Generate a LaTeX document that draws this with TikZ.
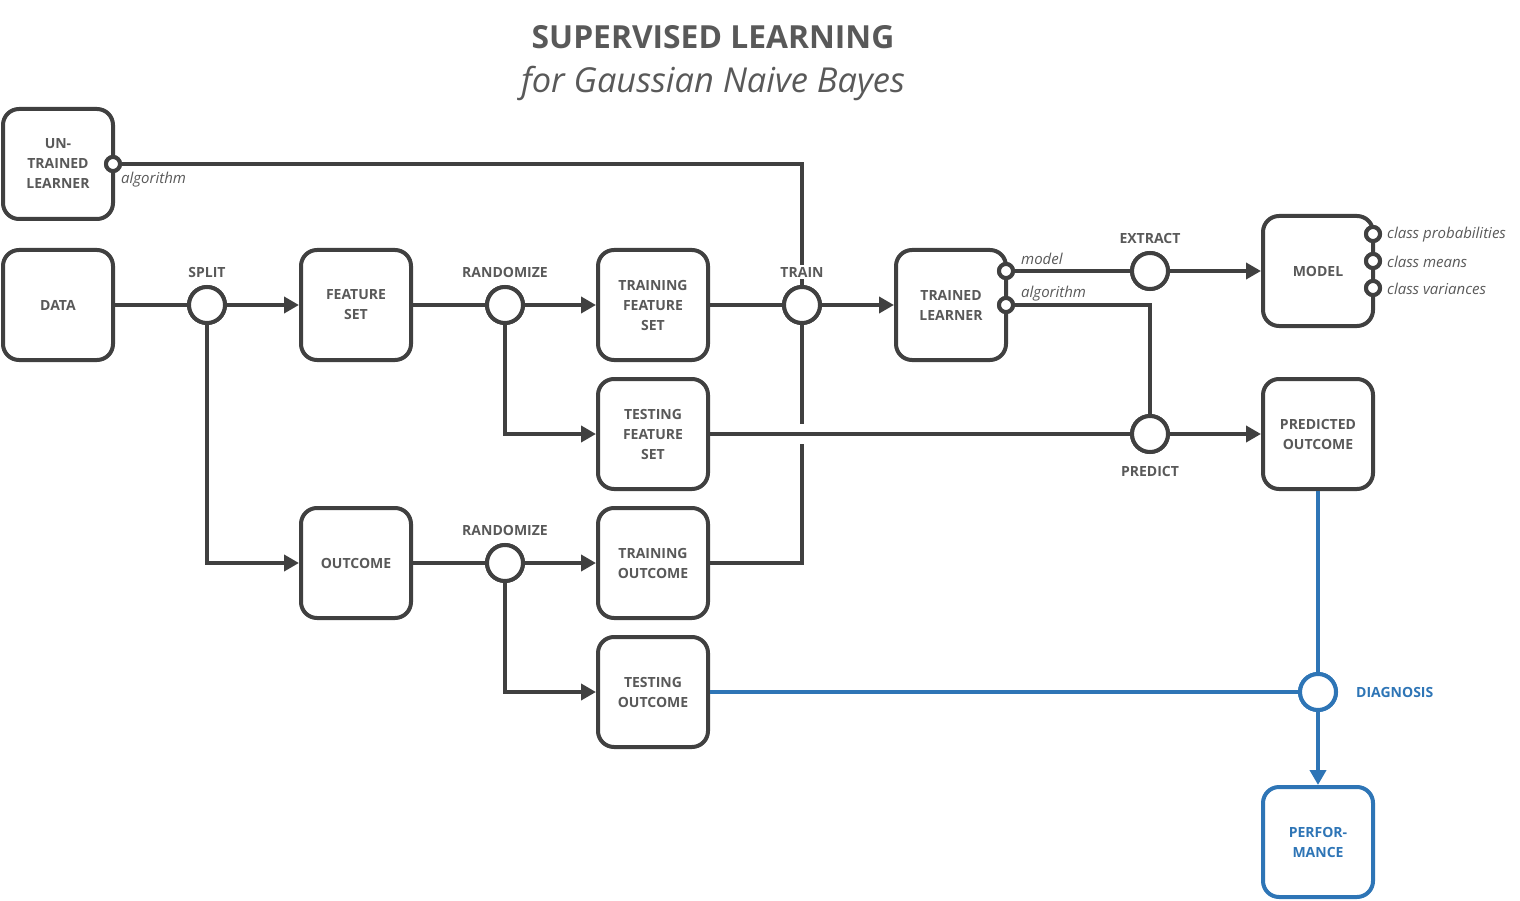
\documentclass[tikz,border=0pt]{standalone}
\usepackage{fontspec}
\setmainfont{Open Sans}
\usetikzlibrary{arrows.meta}
\definecolor{linegray}{HTML}{404040}
\definecolor{textgray}{HTML}{595959}
\definecolor{diagblue}{HTML}{2E75B6}

\begin{document}
\begin{tikzpicture}[x=1pt,y=-1pt,
    box/.style={draw=linegray,line width=4pt,rounded corners=16pt,fill=white,
      minimum width=110pt,minimum height=110pt,align=center,text=textgray,
      font=\fontsize{14}{20}\selectfont\bfseries},
    op/.style={circle,draw=linegray,line width=4pt,fill=white,minimum size=36pt,inner sep=0pt},
    port/.style={circle,draw=linegray,line width=4pt,fill=white,minimum size=14pt,inner sep=0pt},
    opname/.style={text=textgray,font=\fontsize{14}{16}\selectfont\bfseries,fill=white,inner sep=2pt},
    portname/.style={text=textgray,font=\fontsize{15}{18}\selectfont\itshape,inner sep=1pt},
    flow/.style={draw=linegray,line width=4pt},
    blueflow/.style={draw=diagblue,line width=4pt},
    >={Triangle[length=15pt,width=16pt]}]
  \useasboundingbox (0,0) rectangle (1520,901);

  % title
  \node[text=textgray,font=\fontsize{31.8}{36}\selectfont\bfseries] (title) at (713,37) {SUPERVISED LEARNING};
  \node[text=textgray,font=\fontsize{34.4}{40}\selectfont\itshape] (subtitle) at (713,83) {for Gaussian Naive Bayes};

  % boxes
  \node[box] (untrained) at (58,164) {UN-\\TRAINED\\LEARNER};
  \node[box] (data) at (58,305) {DATA};
  \node[box] (featureset) at (356,305) {FEATURE\\SET};
  \node[box] (trainfeature) at (653,305) {TRAINING\\FEATURE\\SET};
  \node[box] (testfeature) at (653,434) {TESTING\\FEATURE\\SET};
  \node[box] (outcome) at (356,563) {OUTCOME};
  \node[box] (trainoutcome) at (653,563) {TRAINING\\OUTCOME};
  \node[box] (testoutcome) at (653,692) {TESTING\\OUTCOME};
  \node[box] (trained) at (951,305) {TRAINED\\LEARNER};
  \node[box] (model) at (1318,271) {MODEL};
  \node[box] (predicted) at (1318,434) {PREDICTED\\OUTCOME};
  \node[box,draw=diagblue,text=diagblue] (perf) at (1318,842) {PERFOR-\\MANCE};

  % operations
  \node[op] (split) at (207,305) {};
  \node[op] (rand1) at (505,305) {};
  \node[op] (train) at (802,305) {};
  \node[op] (rand2) at (505,563) {};
  \node[op] (extract) at (1150,271) {};
  \node[op] (predict) at (1150,434) {};
  \node[op,draw=diagblue] (diag) at (1318,692) {};

  % ports
  \node[port] (upalgo) at (113,164) {};
  \node[port] (tmodel) at (1006,271) {};
  \node[port] (talgo) at (1006,305) {};
  \node[port] (mprob) at (1373,234) {};
  \node[port] (mmean) at (1373,261) {};
  \node[port] (mvar) at (1373,288) {};

  % connectors
  \draw[flow] (upalgo) -| (train);
  \draw[flow] (data) -- (split);
  \draw[flow,->] (split) -- (featureset);
  \draw[flow,->] (split) |- (outcome);
  \draw[flow] (featureset) -- (rand1);
  \draw[flow,->] (rand1) -- (trainfeature);
  \draw[flow,->] (rand1) |- (testfeature);
  \draw[flow] (outcome) -- (rand2);
  \draw[flow,->] (rand2) -- (trainoutcome);
  \draw[flow,->] (rand2) |- (testoutcome);
  \draw[flow] (trainfeature) -- (train);
  \draw[flow] (trainoutcome) -| (train);
  \draw[flow,->] (train) -- (trained);
  \draw[flow,preaction={draw=white,line width=20pt,shorten <=10pt,shorten >=30pt}] (testfeature) -- (predict);
  \draw[flow] (talgo) -| (predict);
  \draw[flow,->] (predict) -- (predicted);
  \draw[flow] (tmodel) -- (extract);
  \draw[flow,->] (extract) -- (model);
  \draw[blueflow] (testoutcome) -- (diag);
  \draw[blueflow] (predicted) -- (diag);
  \draw[blueflow,->] (diag) -- (perf);

  % redraw ports and operations on top of the lines
  \foreach \n in {split,rand1,train,rand2,extract,predict}
    \node[op] at (\n) {};
  \node[op,draw=diagblue] at (diag) {};
  \foreach \n in {upalgo,tmodel,talgo,mprob,mmean,mvar}
    \node[port] at (\n) {};

  % operation names
  \node[opname] (splitname) at (207,272) {SPLIT};
  \node[opname] (rand1name) at (505,272) {RANDOMIZE};
  \node[opname] (trainname) at (802,272) {TRAIN};
  \node[opname] (rand2name) at (505,530) {RANDOMIZE};
  \node[opname] (extractname) at (1150,239) {EXTRACT};
  \node[opname] (predictname) at (1150,471) {PREDICT};
  \node[opname,text=diagblue,anchor=west] (diagname) at (1354,692) {DIAGNOSIS};

  % port names
  \node[portname,anchor=west] at (120,180) {algorithm};
  \node[portname,anchor=west] at (1020,259) {model};
  \node[portname,anchor=west] at (1020,294) {algorithm};
  \node[portname,anchor=west] at (1386,235) {class probabilities};
  \node[portname,anchor=west] at (1386,262) {class means};
  \node[portname,anchor=west] at (1386,289) {class variances};
\end{tikzpicture}
\end{document}
